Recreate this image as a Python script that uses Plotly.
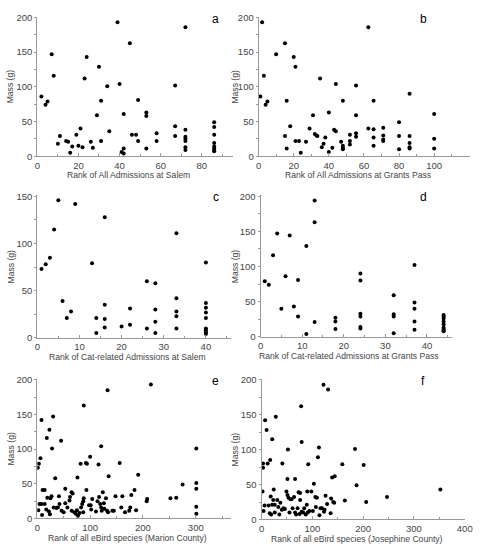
import plotly.graph_objects as go

W, H = 484, 550

#---
# data (rank, mass in g)
#---
a_rank = [2, 4, 5, 7, 8, 10, 11, 14, 15, 16, 17, 19, 20, 21, 22, 23, 24, 26, 27, 29, 30, 31, 31, 34, 35,
          39, 40, 41, 42, 42, 42, 45, 46, 48, 49, 49, 53, 53, 53, 58, 58, 67, 67, 67,
          72, 72, 72, 72, 72, 72, 72, 86, 86, 86, 86, 86, 86, 86, 86]
a_mass = [86, 74, 79, 147, 116, 18, 29, 22, 21, 5, 14, 31, 15, 40, 13, 112, 143, 21, 12, 59, 129, 80, 22, 101, 36,
          193, 104, 6, 4, 61, 11, 163, 31, 31, 81, 22, 63, 58, 11, 33, 22, 102, 43, 29,
          186, 38, 28, 25, 22, 13, 9, 49, 42, 31, 19, 14, 11, 9, 7]

b_rank = [1, 2, 3, 4, 5, 10, 15, 15, 16, 16, 18, 20, 21, 21, 23, 24, 27, 29, 31, 32, 33, 33.5, 35, 36, 37, 38,
          40, 40, 42, 43, 44, 44, 47, 48, 48, 48, 48, 52, 52, 52, 55.5, 55.5, 55.5, 55.5,
          62.5, 62.5, 65.5, 65.5, 65.5, 65.5, 71, 71, 71, 71, 80, 80, 80, 86, 86, 86, 86, 86, 100, 100, 100]
b_mass = [86, 193, 116, 74, 79, 147, 163, 29, 11, 80, 43, 143, 129, 22, 22, 5, 21, 40, 59, 32, 30, 29, 112, 13, 18, 27,
          63, 6, 12, 38, 36, 104, 21, 15, 12, 10, 80, 31, 22, 17, 102, 59, 33, 28,
          186, 40, 80, 39, 27, 15, 41, 30, 24, 22, 49, 29, 10, 90, 29, 19, 13, 11, 61, 25, 11]

c_rank = [1, 2, 3, 4, 5, 6, 7, 8, 9, 13, 14, 14, 16, 16, 16, 16, 20, 22, 22, 26, 26, 28, 28, 28, 28,
          33, 33, 33, 33, 33, 40, 40, 40, 40, 40, 40, 40, 40, 40]
c_mass = [73, 78, 85, 115, 146, 39, 21, 28, 142, 79, 21, 5, 128, 35, 20, 11, 12, 31, 14, 10, 60, 58, 30, 17, 5,
          111, 42, 28, 23, 10, 80, 37, 32, 27, 21, 10, 8, 6, 4]

d_rank = [1, 2, 3, 4, 5, 6, 7, 8, 9, 9, 11, 11, 13, 13, 13, 18, 18, 18, 24, 24, 24, 24, 24, 24,
          32, 32, 32, 32, 37, 37, 37, 37, 37, 44, 44, 44, 44, 44, 44, 44, 44, 44]
d_mass = [79, 74, 116, 147, 40, 86, 144, 43, 81, 29, 129, 4, 194, 163, 21, 27, 22, 11, 90, 80, 33, 29, 14, 12,
          59, 32, 29, 5, 102, 49, 40, 22, 10, 31, 29, 26, 22, 18, 13, 11, 9, 8]

e_rank = [1, 3, 6, 2, 4, 8, 9, 8, 10, 14, 14, 17, 18, 19, 22, 23, 24, 25, 27, 28, 30, 31, 34, 36, 39, 41, 42,
          45, 46, 50, 53, 53, 57, 61, 62, 65, 67, 65, 70, 73, 75, 76, 77, 80, 82, 83, 85, 87, 88, 88, 87,
          92, 94, 93, 98, 100, 101, 102, 104, 111, 114, 116, 117, 119, 121, 121, 122, 124, 126, 127, 130,
          132, 133, 134, 135, 142, 145, 148, 156, 159, 161, 166, 174, 176, 178, 184, 187, 191, 207, 208,
          215, 252, 263, 275, 301, 301, 301, 301, 301]
e_mass = [73, 79, 87, 12, 21, 21, 5, 142, 41, 41, 21, 13, 116, 30, 10, 128, 6, 29, 32, 101, 147, 16, 58, 15, 16, 32, 21,
          112, 11, 9, 43, 22, 16, 26, 31, 38, 36, 11, 9, 7, 12, 59, 4, 8, 79, 16, 21, 25, 29, 163, 9,
          80, 79, 41, 19, 89, 19, 13, 28, 10, 25, 78, 31, 21, 104, 16, 11, 38, 22, 14, 29,
          11, 185, 9, 61, 11, 11, 32, 80, 16, 32, 9, 11, 16, 34, 41, 12, 63, 25, 28,
          193, 29, 30, 49, 101, 51, 43, 17, 7]

f_rank = [2, 3, 3, 4, 7, 6, 10, 12, 14, 16, 17, 18, 19, 21, 21, 23, 24, 26, 26, 28, 31, 33, 35, 37, 40, 41,
          43, 46, 49, 51, 52, 51, 53, 55, 57, 59, 61, 64, 66, 66, 68, 71, 73, 75, 76, 76, 78, 79, 79, 82,
          84, 87, 89, 90, 91, 92, 94, 98, 101, 103, 106, 107, 109, 111, 113, 114, 116, 119, 122, 123, 124,
          126, 129, 131, 136, 137, 139, 141, 143, 144, 159, 164, 184, 187, 201, 206, 247, 352]
f_mass = [40, 80, 74, 12, 142, 20, 128, 80, 20, 9, 85, 33, 7, 115, 21, 28, 43, 21, 10, 147, 28, 18, 7, 24, 14, 80,
          16, 15, 40, 35, 100, 58, 31, 10, 29, 29, 16, 32, 58, 10, 7, 16, 39, 8, 28, 38, 162, 111, 11, 10,
          16, 7, 21, 40, 10, 79, 12, 40, 12, 51, 32, 18, 31, 89, 103, 6, 16, 16, 193, 11, 14,
          34, 22, 186, 9, 30, 60, 25, 24, 62, 79, 27, 101, 49, 78, 25, 32, 43]

panels = [
    # letter, x, y, x title
    ("a", a_rank, a_mass, "Rank of All Admissions at Salem"),
    ("b", b_rank, b_mass, "Rank of All Admissions at Grants Pass"),
    ("c", c_rank, c_mass, "Rank of Cat-related Admissions at Salem"),
    ("d", d_rank, d_mass, "Rank of Cat-related Admissions at Grants Pass"),
    ("e", e_rank, e_mass, "Rank of all eBird species (Marion County)"),
    ("f", f_rank, f_mass, "Rank of all eBird species (Josephine County)"),
]

#---
# layout in pixels: x domain, y domain (top, bottom), x range, y range, x dtick
#---
geom = [
    dict(xd=(35, 235), yd=(12, 154), xr=95.2, yr=201, dt=20, tv=None),
    dict(xd=(261, 477), yd=(12, 154), xr=120.5, yr=201, dt=20, tv=[0, 20, 40, 60, 80, 100]),
    dict(xd=(35, 233), yd=(194, 339), xr=46, yr=151, dt=10, tv=None),
    dict(xd=(263, 458), yd=(194, 338), xr=45.9, yr=201, dt=10, tv=None),
    dict(xd=(35, 233), yd=(381, 523), xr=367, yr=201, dt=100, tv=None),
    dict(xd=(264, 472), yd=(381, 524), xr=401, yr=201, dt=100, tv=None),
]

FONT = "Liberation Sans, Arial, sans-serif"
AXIS_COL = "#9a9a9a"
TEXT_COL = "#444444"

fig = go.Figure()
annotations = []

for i, ((letter, xs, ys, xtitle), g) in enumerate(zip(panels, geom)):
    n = "" if i == 0 else str(i + 1)
    fig.add_trace(go.Scatter(
        x=xs, y=ys, mode="markers",
        marker=dict(color="black", size=4),
        xaxis="x" + n, yaxis="y" + n,
        showlegend=False,
    ))

    x0, x1 = g["xd"][0] / W, g["xd"][1] / W
    yb, yt = 1 - g["yd"][1] / H, 1 - g["yd"][0] / H

    xaxis = dict(
        domain=[x0, x1], range=[0, g["xr"]], anchor="y" + n,
        showgrid=False, zeroline=False, showline=True, linecolor=AXIS_COL, linewidth=1,
        ticks="inside", ticklen=3, tickcolor=AXIS_COL,
        minor=dict(ticks="inside", ticklen=2, tickcolor=AXIS_COL, dtick=g["dt"] / 2),
        tickfont=dict(family=FONT, size=9.5, color=TEXT_COL),
    )
    if g["tv"]:
        xaxis["tickvals"] = g["tv"]
    else:
        xaxis["dtick"] = g["dt"]
    yaxis = dict(
        domain=[yb, yt], range=[0, g["yr"]], anchor="x" + n, dtick=50,
        showgrid=False, zeroline=False, showline=True, linecolor=AXIS_COL, linewidth=1,
        ticks="outside", ticklen=2, tickcolor=AXIS_COL,
        minor=dict(ticks="outside", ticklen=2, tickcolor=AXIS_COL, dtick=25),
        tickfont=dict(family=FONT, size=9.5, color=TEXT_COL),
    )
    fig.update_layout({"xaxis" + n: xaxis, "yaxis" + n: yaxis})

    # x title
    annotations.append(dict(
        text=xtitle, x=(x0 + x1) / 2 - 0.014, y=1 - (g["yd"][1] + 19.5) / H,
        xref="paper", yref="paper", showarrow=False, xanchor="center", yanchor="middle",
        font=dict(family=FONT, size=8.6, color=TEXT_COL),
    ))
    # y title
    ytx = 8 if i % 2 == 0 else 237
    annotations.append(dict(
        text="Mass (g)", x=ytx / W, y=(yb + yt) / 2,
        xref="paper", yref="paper", showarrow=False, textangle=-90,
        xanchor="center", yanchor="middle",
        font=dict(family=FONT, size=8.6, color=TEXT_COL),
    ))
    # panel letter
    lx = 217 if i % 2 == 0 else 429
    annotations.append(dict(
        text=letter, x=lx / W, y=1 - (g["yd"][0] + 2) / H,
        xref="paper", yref="paper", showarrow=False, xanchor="center", yanchor="middle",
        font=dict(family=FONT, size=12, color="black"),
    ))

fig.update_layout(
    width=W, height=H,
    margin=dict(l=0, r=0, t=0, b=0),
    plot_bgcolor="white", paper_bgcolor="white",
    annotations=annotations,
)

# page body has an 8px default margin; drop it so the figure sits at the window corner
fig.write_html("out.html", config={"displayModeBar": False},
               post_script="document.body.style.margin='0px';")
